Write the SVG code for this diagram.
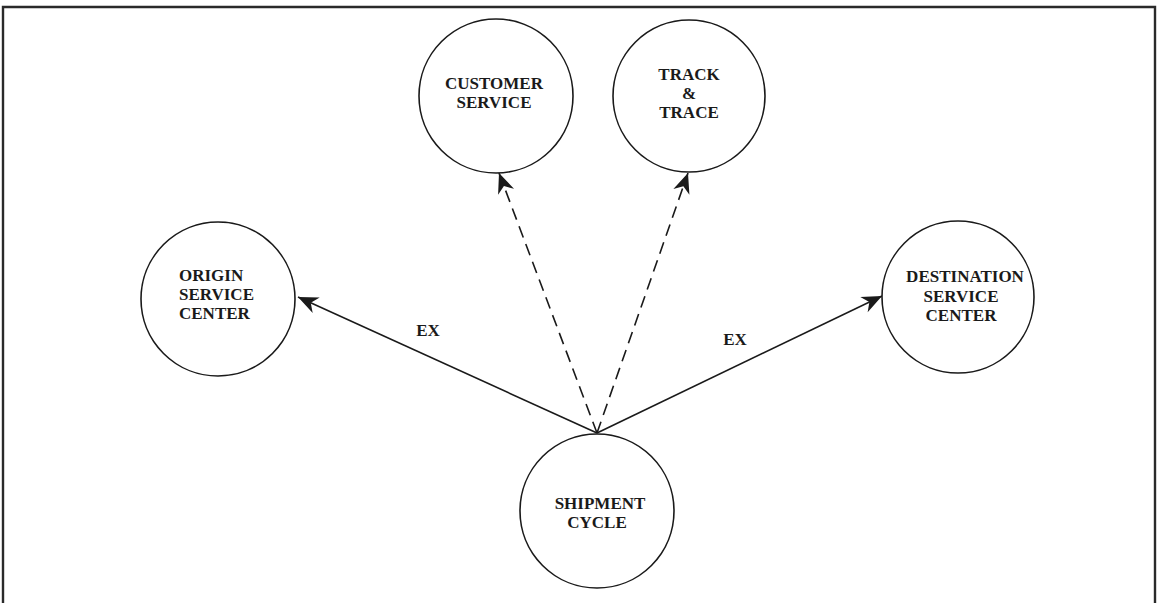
<svg xmlns="http://www.w3.org/2000/svg" width="1157" height="603" viewBox="0 0 1157 603">
  <style>
    .node circle { fill: #ffffff; stroke: #1a1a1a; stroke-width: 1.6; }
    .node text, .label { font-family: "Liberation Serif", "Times New Roman", serif; font-weight: bold; font-size: 17px; fill: #1a1a1a; text-anchor: middle; }
    .edge { stroke: #1a1a1a; stroke-width: 1.6; fill: none; }
    .dashed { stroke-dasharray: 12 7; }
  </style>
  <defs>
    <marker id="arrow" markerUnits="userSpaceOnUse" markerWidth="24" markerHeight="20" viewBox="-22 -10 24 20" refX="0" refY="0" orient="auto">
      <path d="M0,0 L-20,-8.5 L-14,0 L-20,8.5 Z" fill="#1a1a1a"/>
    </marker>
  </defs>

  <rect x="0" y="0" width="1157" height="603" fill="#ffffff"/>
  <!-- outer frame -->
  <path d="M3,606 L3,7 L1155,7 L1155,606" fill="none" stroke="#2a2a2a" stroke-width="2.4"/>

  <!-- connectors -->
  <g id="connectors">
    <line class="edge" x1="597" y1="433" x2="298" y2="297" marker-end="url(#arrow)"/>
    <line class="edge" x1="597" y1="433" x2="882" y2="296" marker-end="url(#arrow)"/>
    <line class="edge dashed" x1="597" y1="433" x2="499" y2="173" marker-end="url(#arrow)"/>
    <line class="edge dashed" x1="597" y1="433" x2="688" y2="173" marker-end="url(#arrow)"/>
    <text class="label" x="428" y="336">EX</text>
    <text class="label" x="735" y="345">EX</text>
  </g>

  <g id="customer-service" class="node">
    <circle cx="496" cy="96" r="77"/>
    <text x="494" y="89">CUSTOMER</text>
    <text x="494" y="108">SERVICE</text>
  </g>

  <g id="track-trace" class="node">
    <circle cx="689" cy="96" r="76"/>
    <text x="689" y="80">TRACK</text>
    <text x="689" y="99">&amp;</text>
    <text x="689" y="118">TRACE</text>
  </g>

  <g id="origin-service-center" class="node">
    <circle cx="218" cy="299" r="77"/>
    <text x="179" y="281" style="text-anchor:start">ORIGIN</text>
    <text x="179" y="300" style="text-anchor:start">SERVICE</text>
    <text x="179" y="319" style="text-anchor:start">CENTER</text>
  </g>

  <g id="destination-service-center" class="node">
    <circle cx="958" cy="297" r="76"/>
    <text x="965" y="282">DESTINATION</text>
    <text x="961" y="302">SERVICE</text>
    <text x="961" y="321">CENTER</text>
  </g>

  <g id="shipment-cycle" class="node">
    <circle cx="597" cy="511" r="77"/>
    <text x="600" y="509">SHIPMENT</text>
    <text x="597" y="528">CYCLE</text>
  </g>
</svg>
